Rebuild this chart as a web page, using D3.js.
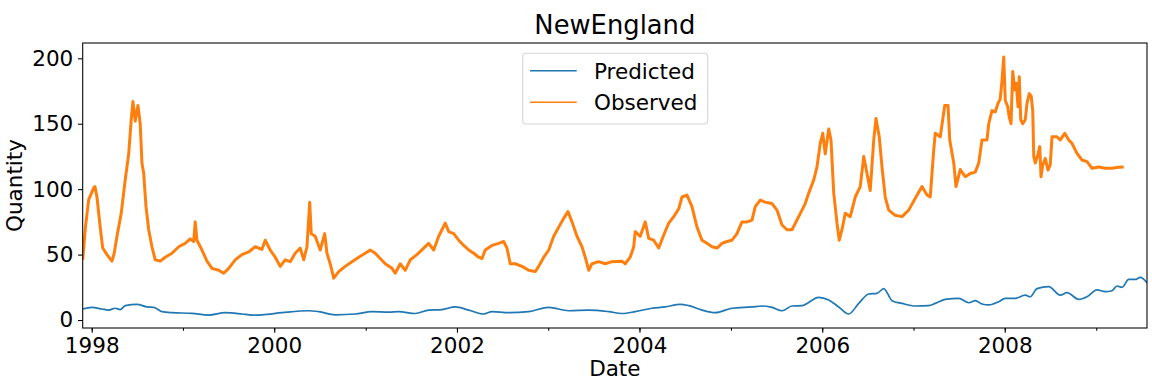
<!DOCTYPE html>
<html>
<head>
<meta charset="utf-8">
<script src="https://cdn.jsdelivr.net/npm/d3@7/dist/d3.min.js"></script>
<style>
    body { margin: 0; background: #fff; }
    svg { font-family: "DejaVu Sans", sans-serif; }
</style>
</head>
<body>
<div id="chart"></div>
<script>
var title = 'NewEngland',
    seriesNames = ['Predicted', 'Observed'],
    seriesColors = ['#1f77b4', '#ff7f0e'],
    yTicks = [0, 50, 100, 150, 200],
    xStart = '1997-11-26',
    xEnd = '2009-07-23';

// observed quantity
var observedDates = [
    '1997-11-26', '1997-12-07', '1997-12-20', '1998-01-09', '1998-01-14', '1998-01-22', '1998-02-04', '1998-02-14',
    '1998-03-03', '1998-03-23', '1998-04-01', '1998-04-12', '1998-04-29', '1998-05-15', '1998-05-29', '1998-06-08',
    '1998-06-15', '1998-06-24', '1998-07-05', '1998-07-14', '1998-07-21', '1998-07-28', '1998-08-06', '1998-08-17',
    '1998-08-30', '1998-09-12', '1998-10-02', '1998-10-22', '1998-11-18', '1998-12-15', '1999-01-10', '1999-01-30',
    '1999-02-13', '1999-02-19', '1999-02-26', '1999-03-18', '1999-04-07', '1999-04-27', '1999-05-24', '1999-06-13',
    '1999-07-03', '1999-07-29', '1999-08-25', '1999-09-21', '1999-10-17', '1999-11-13', '1999-11-26', '1999-12-16',
    '2000-01-05', '2000-01-25', '2000-02-14', '2000-03-05', '2000-03-25', '2000-04-14', '2000-04-28', '2000-05-11',
    '2000-05-22', '2000-05-28', '2000-06-13', '2000-07-03', '2000-07-21', '2000-07-30', '2000-08-12', '2000-08-26',
    '2000-09-15', '2000-10-11', '2000-11-07', '2000-12-04', '2000-12-30', '2001-01-19', '2001-02-08', '2001-02-28',
    '2001-03-20', '2001-04-16', '2001-04-29', '2001-05-19', '2001-06-08', '2001-06-28', '2001-07-25', '2001-08-21',
    '2001-09-10', '2001-09-30', '2001-10-20', '2001-11-02', '2001-11-15', '2001-11-29', '2001-12-19', '2002-01-08',
    '2002-01-28', '2002-02-17', '2002-03-09', '2002-03-29', '2002-04-11', '2002-04-24', '2002-05-21', '2002-06-17',
    '2002-07-07', '2002-07-20', '2002-08-02', '2002-08-22', '2002-09-18', '2002-10-15', '2002-11-10', '2002-11-24',
    '2002-12-14', '2003-01-03', '2003-01-23', '2003-02-12', '2003-03-04', '2003-03-21', '2003-04-06', '2003-04-26',
    '2003-05-16', '2003-05-29', '2003-06-12', '2003-06-25', '2003-07-22', '2003-08-17', '2003-09-13', '2003-10-23',
    '2003-11-05', '2003-11-25', '2003-12-09', '2003-12-15', '2004-01-04', '2004-01-24', '2004-02-07', '2004-02-27',
    '2004-03-18', '2004-04-07', '2004-04-27', '2004-05-17', '2004-06-06', '2004-06-19', '2004-07-09', '2004-07-29',
    '2004-08-18', '2004-09-07', '2004-09-27', '2004-10-17', '2004-11-06', '2004-11-26', '2004-12-16', '2005-01-05',
    '2005-01-25', '2005-02-14', '2005-03-06', '2005-03-26', '2005-04-08', '2005-04-28', '2005-05-18', '2005-06-14',
    '2005-07-04', '2005-07-24', '2005-08-13', '2005-09-02', '2005-09-22', '2005-10-12', '2005-10-25', '2005-11-08',
    '2005-11-28', '2005-12-11', '2005-12-24', '2006-01-03', '2006-01-13', '2006-01-27', '2006-02-05', '2006-02-16',
    '2006-03-01', '2006-03-10', '2006-03-21', '2006-04-03', '2006-04-23', '2006-05-13', '2006-06-02', '2006-06-16',
    '2006-06-29', '2006-07-12', '2006-07-26', '2006-08-04', '2006-08-17', '2006-08-28', '2006-09-10', '2006-09-24',
    '2006-10-20', '2006-11-16', '2006-12-13', '2007-01-08', '2007-02-04', '2007-02-24', '2007-03-09', '2007-03-23',
    '2007-03-29', '2007-04-18', '2007-05-06', '2007-05-19', '2007-05-26', '2007-06-11', '2007-06-20', '2007-07-07',
    '2007-07-27', '2007-08-16', '2007-09-05', '2007-09-19', '2007-10-02', '2007-10-22', '2007-10-29', '2007-11-11',
    '2007-11-24', '2007-12-05', '2007-12-14', '2007-12-21', '2007-12-28', '2008-01-03', '2008-01-13', '2008-01-19',
    '2008-01-26', '2008-02-02', '2008-02-10', '2008-02-16', '2008-02-23', '2008-02-28', '2008-03-05', '2008-03-13',
    '2008-03-23', '2008-03-30', '2008-04-08', '2008-04-16', '2008-04-22', '2008-04-26', '2008-05-02', '2008-05-12',
    '2008-05-20', '2008-05-25', '2008-06-01', '2008-06-11', '2008-06-22', '2008-07-01', '2008-07-08', '2008-07-28',
    '2008-08-10', '2008-08-28', '2008-09-13', '2008-09-26', '2008-10-16', '2008-11-05', '2008-11-25', '2008-12-15',
    '2009-01-11', '2009-02-06', '2009-03-05', '2009-04-01', '2009-04-21'
];
var observedValues = [
    46, 71, 92, 101, 102, 94, 71, 55,
    50, 45, 51, 64, 81.5, 107, 127, 153,
    167, 152, 164, 150, 120, 112, 87, 69,
    56, 46, 45, 48, 51, 56, 58.6, 62,
    60, 75, 61, 53.5, 45, 39.5, 38, 35.7,
    39.5, 46, 50, 52, 56, 54, 61, 53.5,
    48, 41, 46, 44.6, 51, 55, 46, 56,
    90, 66, 64, 53.5, 66, 51, 43, 32,
    37, 41, 44.6, 48, 51, 53.5, 51, 47,
    43, 39.5, 35.7, 43, 38, 46, 50, 55,
    58.6, 53.5, 64, 69, 74, 67.5, 66, 61,
    57, 53.5, 51, 48, 47, 53.5, 57, 58.6,
    60, 55, 43, 43, 41, 38, 37, 41,
    48, 53.5, 64, 71, 77.7, 82.8, 75, 64,
    56, 48, 38, 43, 44.6, 43, 44.6, 45,
    43, 48, 56, 67.5, 64, 75, 62.4, 61,
    55, 65, 74, 79, 85, 94, 95.5, 86.6,
    71, 61, 58.6, 56, 55, 58.6, 60, 61,
    66, 75, 75, 76.4, 86.6, 91.7, 90, 89,
    84, 72.6, 69, 69, 76.4, 84, 89, 97,
    107, 117, 135, 142.7, 127, 146, 137.6, 97,
    74, 61, 69, 81.5, 79, 94, 102, 125,
    112, 99, 137.6, 154, 140, 117, 94, 84,
    80, 79, 84, 93, 102, 95.5, 94, 130,
    142.7, 140, 164, 164, 137.6, 120, 102, 115,
    109.5, 112, 113, 120, 137.6, 137.6, 150, 160,
    159, 165.6, 169, 183, 201, 168, 163, 155,
    150, 190, 176, 181, 163, 186, 153, 150,
    153, 165.6, 173, 171, 160, 125, 120, 126,
    132.5, 109.5, 118.5, 123.5, 114.6, 118.5, 140, 140,
    137.6, 142.7, 137.6, 135, 127.4, 122.3, 121, 116,
    117, 116, 116, 116.7, 117
];

// predicted quantity
var predictedDates = [
    '1997-11-26', '1998-01-02', '1998-02-11', '1998-03-10', '1998-04-05', '1998-04-25', '1998-05-15', '1998-07-01',
    '1998-08-10', '1998-09-06', '1998-10-09', '1998-11-18', '1999-02-06', '1999-04-14', '1999-06-19', '1999-08-25',
    '1999-10-04', '1999-11-13', '2000-02-01', '2000-05-18', '2000-06-27', '2000-09-01', '2000-11-20', '2001-01-26',
    '2001-04-03', '2001-05-13', '2001-07-18', '2001-09-10', '2001-11-02', '2001-12-25', '2002-02-17', '2002-04-18',
    '2002-05-21', '2002-07-27', '2002-10-15', '2003-01-03', '2003-03-24', '2003-06-12', '2003-08-31', '2003-10-23',
    '2003-12-15', '2004-02-20', '2004-04-12', '2004-06-12', '2004-07-16', '2004-09-07', '2004-10-30', '2005-01-05',
    '2005-03-26', '2005-05-05', '2005-06-14', '2005-07-24', '2005-09-02', '2005-10-12', '2005-12-18', '2006-01-27',
    '2006-03-08', '2006-04-17', '2006-05-27', '2006-07-06', '2006-08-08', '2006-09-04', '2006-10-07', '2006-11-16',
    '2007-01-08', '2007-03-03', '2007-03-29', '2007-05-08', '2007-07-01', '2007-08-10', '2007-09-05', '2007-10-02',
    '2007-10-29', '2007-12-08', '2008-01-03', '2008-02-12', '2008-03-23', '2008-04-12', '2008-05-09', '2008-06-25',
    '2008-08-10', '2008-09-06', '2008-10-23', '2008-11-25', '2009-01-04', '2009-02-06', '2009-03-05', '2009-03-25',
    '2009-04-14', '2009-05-11', '2009-06-06', '2009-06-26', '2009-07-23'
];
var predictedValues = [
    8.4, 9.7, 8.4, 7.6, 9, 8, 11, 12,
    10, 9.7, 6.4, 5.6, 5.1, 3.8, 5.6, 4.6,
    3.8, 4, 5.6, 7.1, 6.4, 4, 4.6, 6.4,
    6, 6.4, 5, 7.6, 8, 10, 7.6, 4.6,
    6.4, 5.6, 6.4, 9.7, 7.1, 7.6, 6.4, 5,
    6.4, 9, 10, 12, 11, 7.6, 5.6, 9,
    10, 10.7, 9.7, 7.1, 10.7, 11, 17.3, 15.3,
    10, 4.6, 12.7, 19.9, 20.4, 24, 14.8, 12.7,
    10.7, 11, 12.7, 15.8, 16.6, 13.2, 14.8, 12.2,
    11.5, 14, 16.6, 16.6, 19, 17.8, 24, 25.5,
    19, 20.9, 15.8, 17.8, 23, 21.7, 22.4, 26,
    25, 31, 31, 32.6, 28.5
];

var width = 1152,
    height = 386,
    margin = {top: 43, right: 5, bottom: 58, left: 82.7},
    innerW = width - margin.left - margin.right,
    innerH = height - margin.top - margin.bottom,
    fontSize = 21.5,
    parseDate = d3.timeParse('%Y-%m-%d');

var svg = d3.select('#chart').append('svg')
    .attr('width', width)
    .attr('height', height);

var g = svg.append('g')
    .attr('transform', 'translate(' + margin.left + ',' + margin.top + ')');

var x = d3.scaleTime()
    .domain([parseDate(xStart), parseDate(xEnd)])
    .range([0, innerW]);

var y = d3.scaleLinear()
    .domain([-6.1, 211.7])
    .range([innerH, 0]);

// build the series from the arrays
var series = [
    {name: seriesNames[0], color: seriesColors[0], width: 1.7, curve: d3.curveMonotoneX,
        points: predictedDates.map(function (d, i) { return {date: parseDate(d), value: predictedValues[i]}; })},
    {name: seriesNames[1], color: seriesColors[1], width: 3, curve: d3.curveLinear,
        points: observedDates.map(function (d, i) { return {date: parseDate(d), value: observedValues[i]}; })}
];

g.append('clipPath').attr('id', 'clip')
    .append('rect').attr('width', innerW).attr('height', innerH);

series.forEach(function (s) {
    var line = d3.line()
        .curve(s.curve)
        .x(function (d) { return x(d.date); })
        .y(function (d) { return y(d.value); });

    g.append('path')
        .datum(s.points)
        .attr('clip-path', 'url(#clip)')
        .attr('fill', 'none')
        .attr('stroke', s.color)
        .attr('stroke-width', s.width)
        .attr('stroke-linejoin', 'round')
        .attr('d', line);
});

// axes
var yAxis = g.append('g')
    .call(d3.axisLeft(y).tickValues(yTicks).tickSize(4.7).tickPadding(4.7));

var xMinor = g.append('g')
    .attr('transform', 'translate(0,' + innerH + ')')
    .call(d3.axisBottom(x).ticks(d3.timeYear.every(1)).tickSize(2.7).tickFormat(''));

var xAxis = g.append('g')
    .attr('transform', 'translate(0,' + innerH + ')')
    .call(d3.axisBottom(x).ticks(d3.timeYear.every(2)).tickSize(4.7).tickPadding(4.7)
        .tickFormat(d3.timeFormat('%Y')));

[yAxis, xAxis, xMinor].forEach(function (a) {
    a.select('.domain').remove();
    a.selectAll('line').attr('stroke', '#000').attr('stroke-width', 1.07);
    a.selectAll('text')
        .attr('fill', '#000')
        .style('font-size', fontSize + 'px')
        .style('font-family', '"DejaVu Sans"');
});

// frame
g.append('rect')
    .attr('width', innerW)
    .attr('height', innerH)
    .attr('fill', 'none')
    .attr('stroke', '#000')
    .attr('stroke-width', 1.07);

// titles
svg.append('text')
    .attr('x', margin.left + innerW / 2)
    .attr('y', 34.3)
    .attr('text-anchor', 'middle')
    .style('font-size', '25.8px')
    .text(title);

svg.append('text')
    .attr('x', margin.left + innerW / 2)
    .attr('y', 376)
    .attr('text-anchor', 'middle')
    .style('font-size', fontSize + 'px')
    .text('Date');

svg.append('text')
    .attr('transform', 'translate(22,' + (margin.top + innerH / 2) + ') rotate(-90)')
    .attr('text-anchor', 'middle')
    .style('font-size', fontSize + 'px')
    .text('Quantity');

// legend
var legend = svg.append('g').attr('transform', 'translate(522.7,53.3)');

legend.append('rect')
    .attr('width', 185)
    .attr('height', 70.7)
    .attr('rx', 3.5)
    .attr('fill', '#fff')
    .attr('fill-opacity', 0.8)
    .attr('stroke', '#d6d6d6')
    .attr('stroke-width', 1.07);

series.forEach(function (s, i) {
    var ly = 17.4 + i * 31.6;

    legend.append('line')
        .attr('x1', 7.3).attr('x2', 54)
        .attr('y1', ly).attr('y2', ly)
        .attr('stroke', s.color)
        .attr('stroke-width', 1.6);

    legend.append('text')
        .attr('x', 71.3)
        .attr('y', ly + 7.9)
        .style('font-size', fontSize + 'px')
        .text(s.name);
});
</script>
</body>
</html>
